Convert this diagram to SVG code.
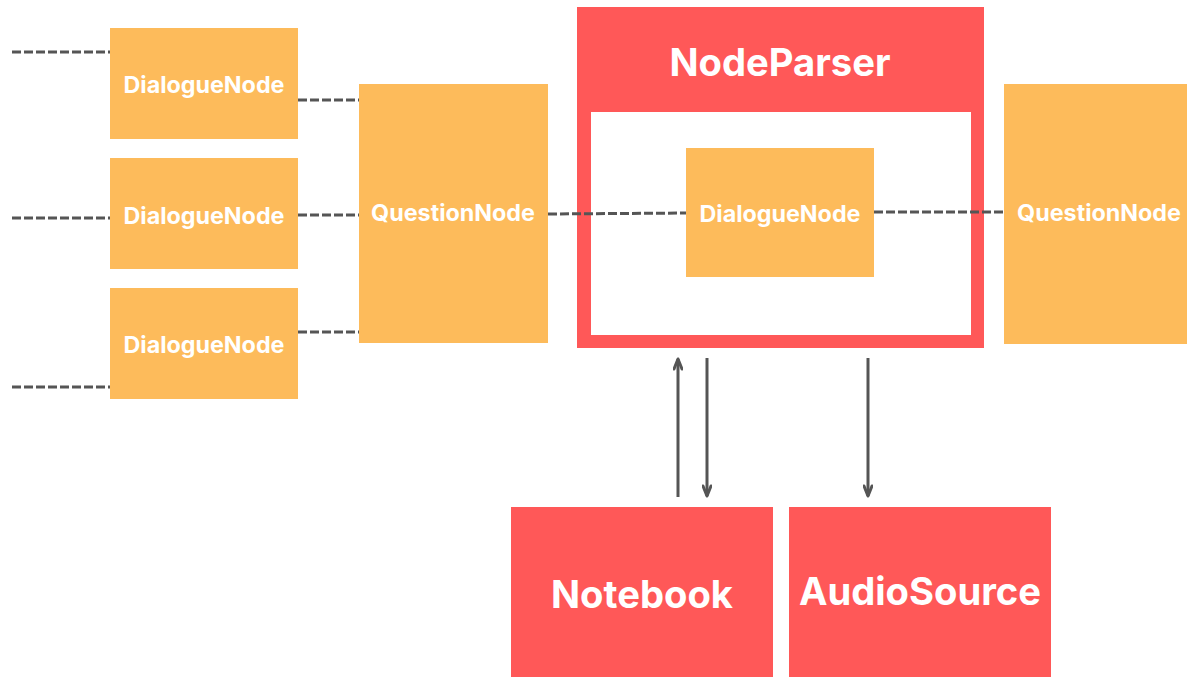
<svg xmlns="http://www.w3.org/2000/svg" width="1187" height="677" viewBox="0 0 1187 677">
<style>
.o{fill:#FDBB5B}
.r{fill:#FF5858}
.t{font-family:Inter,"Liberation Sans",sans-serif;font-weight:700;fill:#fff;text-anchor:middle;dominant-baseline:central}
.s{font-size:23.3px}
.l{font-size:38.2px}
.d{stroke:#555;stroke-width:3;stroke-dasharray:9 3;fill:none}
.a{stroke:#555;stroke-width:3;fill:none}
</style>
<defs>
<marker id="ah" viewBox="0 0 14 10" refX="12" refY="5" markerWidth="14" markerHeight="10" markerUnits="userSpaceOnUse" orient="auto">
<path d="M2,1 L12,5 L2,9" fill="none" stroke="#555" stroke-width="3" stroke-linecap="round" stroke-linejoin="round"/>
</marker>
</defs>
<rect width="1187" height="677" fill="#fff"/>
<g id="dn1"><rect class="o" x="110" y="28" width="188" height="111"/><text class="t s" x="204" y="84">DialogueNode</text></g>
<g id="dn2"><rect class="o" x="110" y="158" width="188" height="111"/><text class="t s" x="204" y="215">DialogueNode</text></g>
<g id="dn3"><rect class="o" x="110" y="288" width="188" height="111"/><text class="t s" x="204" y="344">DialogueNode</text></g>
<g id="qn1"><rect class="o" x="359" y="84" width="189" height="259"/><text class="t s" x="453" y="212">QuestionNode</text></g>
<g id="nodeparser">
<rect class="r" x="577" y="7" width="407" height="341"/>
<rect fill="#fff" x="591" y="112" width="380" height="223"/>
<text class="t l" x="780" y="62">NodeParser</text>
</g>
<g id="dn-inner"><rect class="o" x="686" y="148" width="188" height="129"/><text class="t s" x="780" y="213">DialogueNode</text></g>
<g id="qn2"><rect class="o" x="1004" y="84" width="190" height="260"/><text class="t s" x="1099" y="212">QuestionNode</text></g>
<g id="notebook"><rect class="r" x="511" y="507" width="262" height="172"/><text class="t l" x="642" y="594">Notebook</text></g>
<g id="audiosource"><rect class="r" x="789" y="507" width="262" height="172"/><text class="t l" x="920" y="591">AudioSource</text></g>
<g id="connectors">
<line class="d" x1="12" y1="52" x2="110" y2="52"/>
<line class="d" x1="12" y1="218" x2="110" y2="218"/>
<line class="d" x1="12" y1="387" x2="110" y2="387"/>
<line class="d" x1="298" y1="100" x2="359" y2="100"/>
<line class="d" x1="298" y1="215" x2="359" y2="215"/>
<line class="d" x1="298" y1="332" x2="359" y2="332"/>
<line class="d" x1="548" y1="214" x2="686" y2="213"/>
<line class="d" x1="874" y1="212" x2="1004" y2="212"/>
<line class="a" x1="678" y1="497" x2="678" y2="359" marker-end="url(#ah)"/>
<line class="a" x1="707" y1="358" x2="707" y2="496" marker-end="url(#ah)"/>
<line class="a" x1="868" y1="358" x2="868" y2="496" marker-end="url(#ah)"/>
</g>
</svg>
